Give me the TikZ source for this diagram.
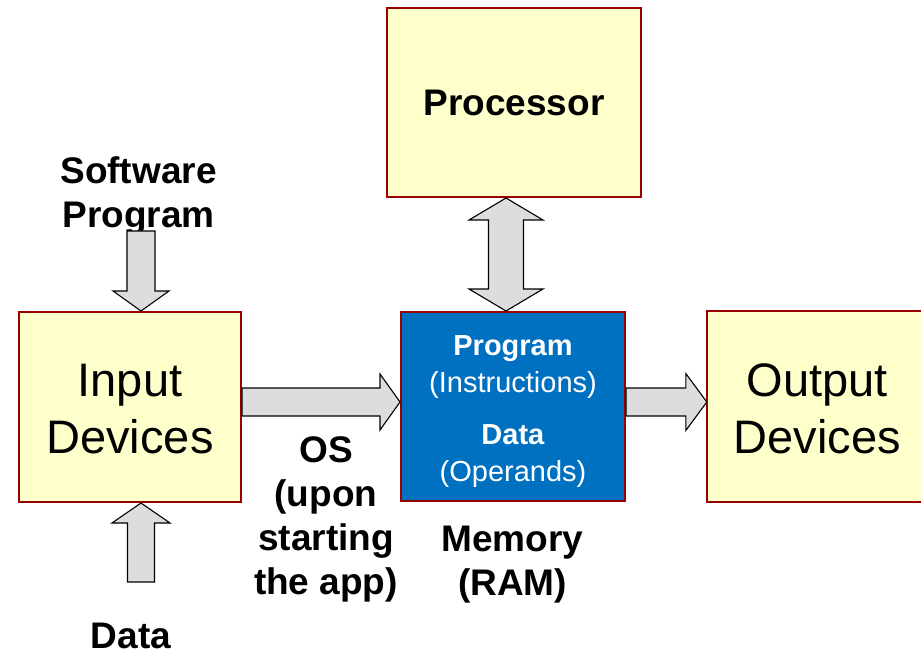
\documentclass[tikz,border=0pt]{standalone}
\usepackage{fontspec}
\setmainfont{Liberation Sans}
\usetikzlibrary{calc}
\definecolor{boxfill}{HTML}{FFFFCC}
\definecolor{boxline}{HTML}{990000}
\definecolor{memblue}{HTML}{0070C0}
\definecolor{arrfill}{HTML}{DDDDDD}
\tikzset{
  unitbox/.style={rectangle, fill=boxfill, draw=boxline, line width=2pt, inner sep=0pt},
  membox/.style={rectangle, fill=memblue, draw=boxline, line width=2pt, inner sep=0pt},
  memtext/.style={text=white, align=center, inner sep=0pt, font=\fontsize{29}{37}\selectfont},
  bigtext/.style={font=\fontsize{47}{57}\selectfont, align=center},
  boldlabel/.style={font=\fontsize{37}{44}\selectfont\bfseries, align=center, inner sep=0pt},
  arrowsty/.style={fill=arrfill, draw=black, line width=1.1pt, line join=miter}
}
\newcommand{\blockarr}[5]{% #1 start, #2 tip, #3 shaft half, #4 head half, #5 head length
  \coordinate (hb) at ($(#2)!#5!(#1)$);
  \draw[arrowsty] ($(#1)!#3!90:(#2)$) -- ($(hb)!#3!90:(#2)$) -- ($(hb)!#4!90:(#2)$) -- (#2)
     -- ($(hb)!#4!-90:(#2)$) -- ($(hb)!#3!-90:(#2)$) -- ($(#1)!#3!-90:(#2)$) -- cycle;
}
\newcommand{\dblarr}[5]{% #1 tip, #2 tip, #3 shaft half, #4 head half, #5 head length
  \coordinate (ha) at ($(#1)!#5!(#2)$);
  \coordinate (hb) at ($(#2)!#5!(#1)$);
  \draw[arrowsty] (#1) -- ($(ha)!#4!90:(#2)$) -- ($(ha)!#3!90:(#2)$) -- ($(hb)!#3!90:(#2)$)
     -- ($(hb)!#4!90:(#2)$) -- (#2) -- ($(hb)!#4!-90:(#2)$) -- ($(hb)!#3!-90:(#2)$)
     -- ($(ha)!#3!-90:(#2)$) -- ($(ha)!#4!-90:(#2)$) -- cycle;
}
\begin{document}
\begin{tikzpicture}[x=1pt,y=-1pt]
\useasboundingbox[fill=white] (0,0) rectangle (921,655);

% boxes
\node[unitbox, minimum width=254pt, minimum height=189pt, font=\fontsize{37}{44}\selectfont\bfseries] (proc) at (514,102.5) {Processor};
\node[unitbox, minimum width=222pt, minimum height=190pt] (in) at (130,407) {};
\node[bigtext, inner sep=0pt] (intxt) at ($(in.center)+(0,2)$) {Input\\Devices};
\node[membox, minimum width=224pt, minimum height=189pt] (mem) at (513,406.5) {};
\node[memtext] (memtxt) at ($(mem.center)+(0,5)$)
  {\textbf{Program}\\(Instructions)\\[15pt]\textbf{Data}\\(Operands)};
\node[rectangle, fill=boxfill, inner sep=0pt, minimum width=214pt, minimum height=190pt] (out) at (814,406.5) {};
\draw[boxline, line width=2pt] (out.north east) -- (out.north west) -- (out.south west) -- (out.south east);
\node[bigtext, inner sep=0pt] (outtxt) at ($(out.center)+(3.5,2)$) {Output\\Devices};

% labels
\node[boldlabel] (swlab) at (138.5,196) {Software\\Program};
\node[boldlabel] (oslab) at (326,519) {OS\\(upon\\starting\\the app)};
\node[boldlabel] (memlab) at (512.5,565) {Memory\\(RAM)};
\node[boldlabel, anchor=base] (datalab) at (131,648) {Data};

% arrows
\coordinate (swtail) at (141,231);
\coordinate (swtip) at (swtail |- in.north);
\blockarr{swtail}{swtip}{14pt}{28pt}{20pt}

\coordinate (dtail) at (141,582);
\coordinate (dtip) at (dtail |- in.south);
\blockarr{dtail}{dtip}{13.5pt}{29pt}{20pt}

\coordinate (inarr) at ($(in.east)+(0,-5)$);
\coordinate (memtip) at (inarr -| mem.west);
\blockarr{inarr}{memtip}{14pt}{28pt}{20pt}

\coordinate (memarr) at ($(mem.east)+(0,-4.5)$);
\coordinate (outtip) at (memarr -| out.west);
\blockarr{memarr}{outtip}{14pt}{28.5pt}{21pt}

\coordinate (ptip) at ($(proc.south)+(-8,0)$);
\coordinate (mtip) at (ptip |- mem.north);
\dblarr{ptip}{mtip}{17.5pt}{37pt}{22pt}
\end{tikzpicture}
\end{document}
